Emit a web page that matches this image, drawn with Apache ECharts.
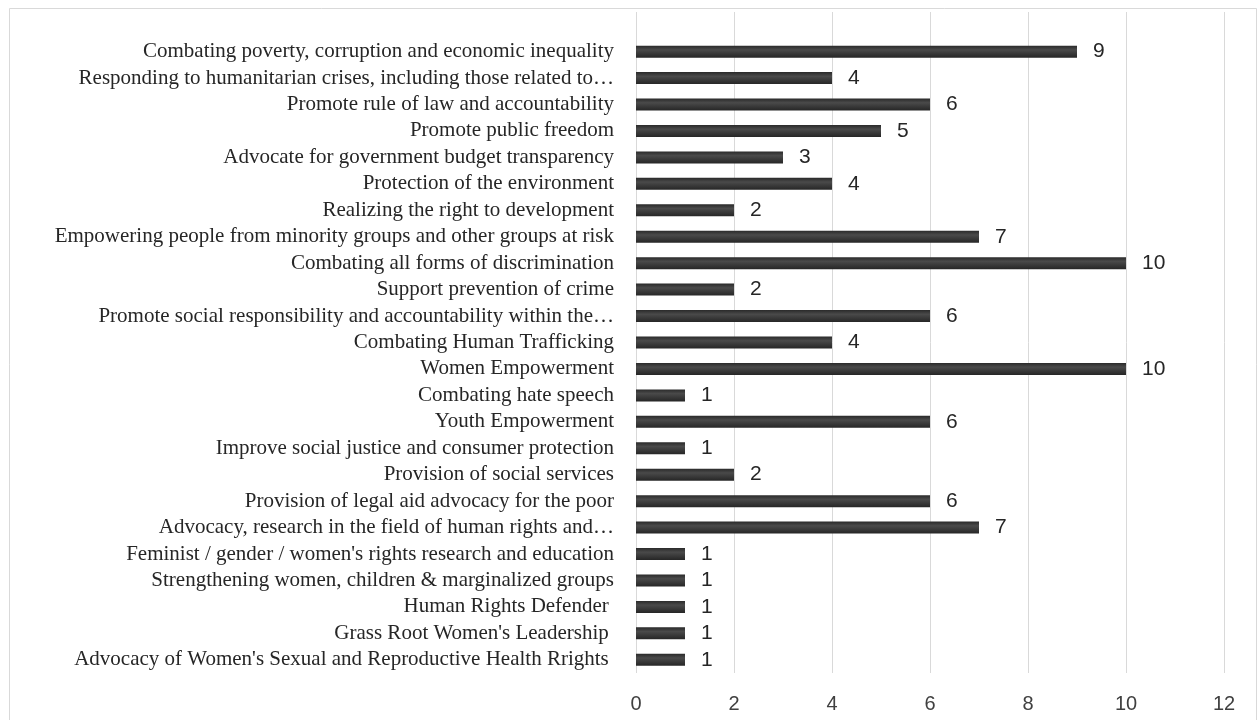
<!DOCTYPE html>
<html>
<head>
<meta charset="utf-8">
<script src="https://cdn.jsdelivr.net/npm/echarts@6/dist/echarts.min.js"></script>
<style>
  html, body { margin: 0; padding: 0; background: #fff; }
  #chart { width: 1258px; height: 720px; }
</style>
</head>
<body>
<div id="chart"></div>
<script>
// top row is an empty category (blank row in the source sheet)
const categories = [
  "",
  "Combating poverty, corruption and economic inequality",
  "Responding to humanitarian crises, including those related to\u2026",
  "Promote rule of law and accountability",
  "Promote public freedom",
  "Advocate for government budget transparency",
  "Protection of the environment",
  "Realizing the right to development",
  "Empowering people from minority groups and other groups at risk",
  "Combating all forms of discrimination",
  "Support prevention of crime",
  "Promote social responsibility and accountability within the\u2026",
  "Combating Human Trafficking",
  "Women Empowerment",
  "Combating hate speech",
  "Youth Empowerment",
  "Improve social justice and consumer protection",
  "Provision of social services",
  "Provision of legal aid advocacy for the poor",
  "Advocacy, research in the field of human rights and\u2026",
  "Feminist / gender / women's rights research and education",
  "Strengthening women, children & marginalized groups",
  "Human Rights Defender ",
  "Grass Root Women's Leadership ",
  "Advocacy of Women's Sexual and Reproductive Health Rrights "
];
const counts = [null, 9, 4, 6, 5, 3, 4, 2, 7, 10, 2, 6, 4, 10, 1, 6, 1, 2, 6, 7, 1, 1, 1, 1, 1];

const xMin = 0;
const xMax = 12;
const xStep = 2;

const chart = echarts.init(document.getElementById("chart"), null, { renderer: "canvas" });

const option = {
  backgroundColor: "#fff",
  animation: false,
  graphic: [
    {
      type: "rect",
      shape: { x: 9.5, y: 8.5, width: 1247, height: 720 },
      style: { fill: "none", stroke: "#d9d9d9", lineWidth: 1 },
      silent: true,
      z: -1
    }
  ],
  grid: { left: 636, right: 34, top: 12, bottom: 47, containLabel: false },
  xAxis: {
    type: "value",
    min: xMin,
    max: xMax,
    interval: xStep,
    axisLine: { show: false },
    axisTick: { show: false },
    axisLabel: {
      color: "#404040",
      fontSize: 20,
      fontFamily: "Liberation Sans",
      margin: 21
    },
    splitLine: { show: true, lineStyle: { color: "#d9d9d9", width: 1 } }
  },
  yAxis: {
    type: "category",
    inverse: true,
    data: categories,
    axisLine: { show: false },
    axisTick: { show: false },
    axisLabel: {
      color: "#262626",
      fontSize: 21,
      fontFamily: "Liberation Serif",
      margin: 22,
      interval: 0
    }
  },
  series: [
    {
      type: "bar",
      data: counts,
      barWidth: 12,
      itemStyle: {
        color: {
          type: "linear", x: 0, y: 0, x2: 0, y2: 1,
          colorStops: [
            { offset: 0, color: "#2a2a2a" },
            { offset: 0.35, color: "#4a4a4a" },
            { offset: 1, color: "#262626" }
          ]
        }
      },
      label: {
        show: true,
        position: "right",
        distance: 16,
        color: "#262626",
        fontSize: 21,
        fontFamily: "Liberation Sans"
      }
    }
  ]
};

chart.setOption(option);
</script>
</body>
</html>
